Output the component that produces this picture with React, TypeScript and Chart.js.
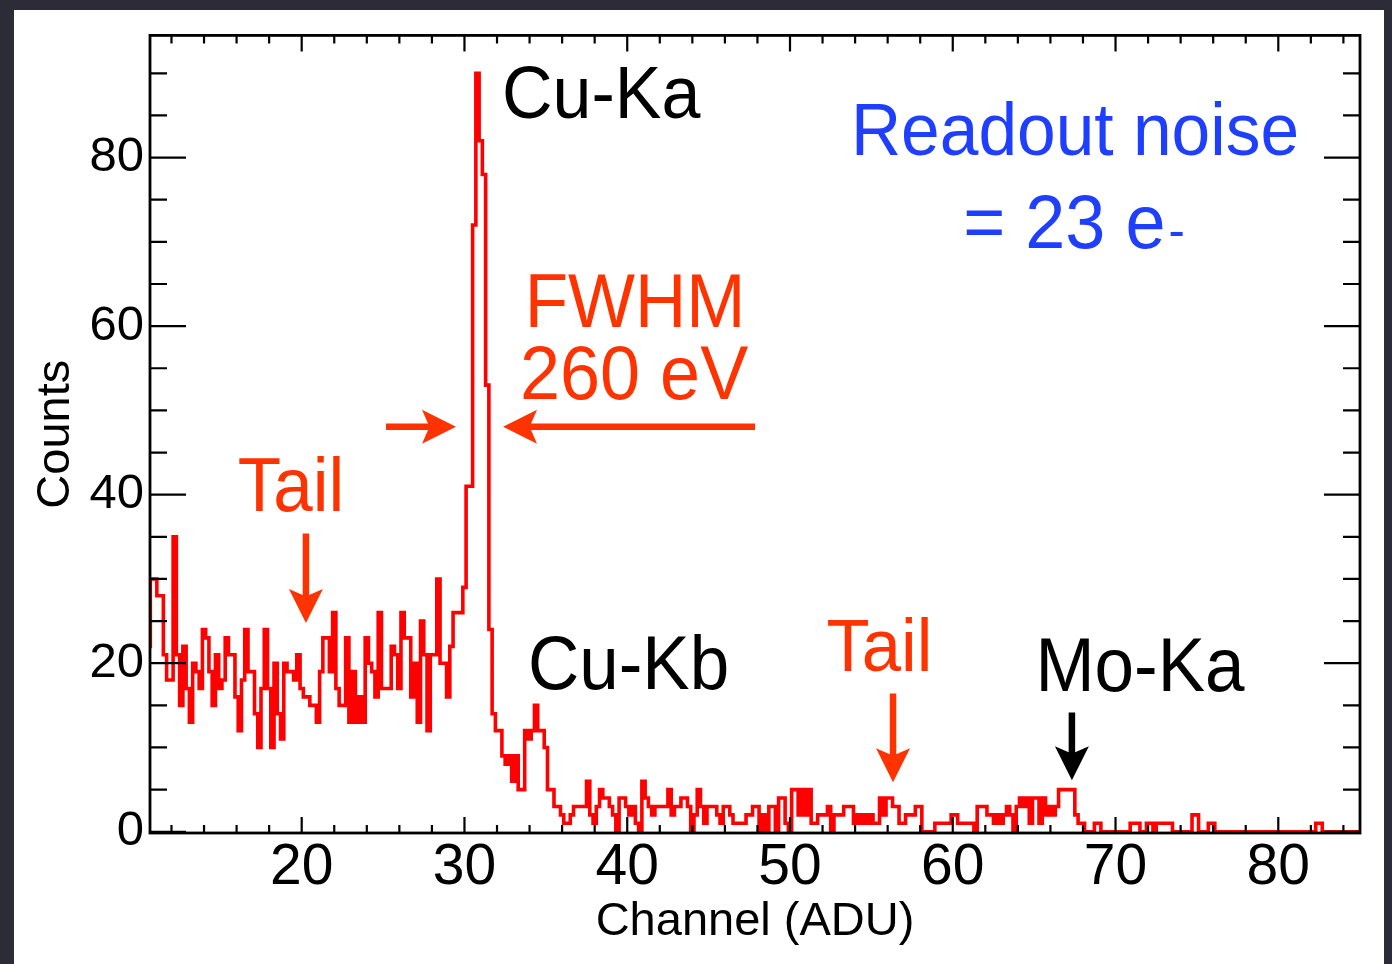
import React, { useEffect, useRef } from "react";
import { Chart, registerables } from "chart.js";

Chart.register(...registerables);

// ---------- data ----------
const BIN_START = 10.5; // lower edge of first bin (ADU)
const BIN_WIDTH = 0.2; // ADU per bin

// counts per bin, 10.5 .. 29.9 ADU
const lowNoiseCounts = [
  22, 30, 30, 28, 28, 21, 18, 18, 35, 21,
  15, 22, 17, 13, 20, 19, 17, 24, 23, 19,
  15, 21, 17, 18, 23, 21, 21, 16, 12, 18,
  24, 19, 19, 14, 10, 17, 24, 17, 10, 20,
  14, 11, 20, 19, 19, 18, 21, 17, 16, 16,
  15, 15, 13, 19, 23, 23, 19, 26, 17, 15,
  15, 23, 13, 19, 13, 16, 13, 23, 20, 19,
  16, 26, 17, 17, 17, 22, 21, 17, 26, 23,
  23, 16, 20, 13, 25, 21, 12, 21, 21, 30,
  20, 20, 16, 22, 26, 26, 26,
];

// counts per bin, 29.9 .. 36.1 ADU (Cu-Ka peak and Cu-Kb)
const cuKaPeakCounts = [
  29, 41, 41, 72, 90, 82, 78, 53, 24, 14,
  12, 12, 9, 8, 9, 6, 9, 5, 5, 12,
  11, 12, 15, 12, 12, 10, 5, 5, 3, 3, 2,
];

// counts per bin, 36.1 .. 60.5 ADU
const midTailCounts = [
  1, 1, 2, 3, 3, 3, 3, 6, 2, 1,
  3, 5, 4, 4, 3, 2, 0, 4, 4, 3,
  2, 3, 1, 0, 6, 4, 3, 2, 3, 3,
  3, 3, 5, 2, 3, 3, 4, 4, 3, 0,
  2, 5, 3, 1, 3, 3, 3, 2, 1, 3,
  3, 2, 1, 1, 1, 1, 2, 2, 3, 3,
  0, 2, 0, 3, 3, 0, 4, 4, 1, 0,
  5, 5, 2, 5, 2, 5, 1, 1, 2, 2,
  2, 3, 0, 2, 2, 2, 3, 3, 3, 1,
  2, 1, 2, 1, 2, 1, 1, 4, 2, 4,
  4, 3, 3, 1, 1, 2, 2, 2, 3, 3,
  0, 0, 0, 0, 1, 1, 1, 1, 1, 2,
  2, 1,
];

// counts per bin, 60.5 .. 85.3 ADU (Mo-Ka region)
const highTailCounts = [
  1, 1, 1, 1, 0, 3, 3, 3, 2, 2,
  1, 2, 1, 2, 3, 2, 0, 3, 4, 3,
  4, 1, 4, 4, 1, 4, 2, 3, 2, 3,
  5, 5, 5, 5, 5, 2, 1, 1, 0, 0,
  0, 1, 1, 0, 0, 0, 0, 0, 0, 0,
  0, 0, 1, 1, 1, 0, 0, 1, 1, 0,
  1, 1, 1, 1, 1, 0, 0, 0, 0, 0,
  0, 2, 2, 0, 0, 0, 1, 1, 0, 0,
  0, 0, 0, 0, 0, 0, 0, 0, 0, 0,
  0, 0, 0, 0, 0, 0, 0, 0, 0, 0,
  0, 0, 0, 0, 0, 0, 0, 0, 0, 1,
  1, 0, 0, 0, 0, 0, 0, 0, 0, 0,
  0, 0, 0, 0,
];

const X_MIN = 10.68;
const X_MAX = 85.02;
const Y_MIN = -0.15;
const Y_MAX = 94.5;

const xMajorTicks = [20, 30, 40, 50, 60, 70, 80];
const xMinorTicks = [
  12, 14, 16, 18, 22, 24, 26, 28, 32, 34, 36, 38, 42, 44, 46, 48, 52, 54, 56, 58,
  62, 64, 66, 68, 72, 74, 76, 78, 82, 84,
];
const yMajorTicks = [0, 20, 40, 60, 80];
const yMinorTicks = [5, 10, 15, 25, 30, 35, 45, 50, 55, 65, 70, 75, 85, 90];

// annotation texts (centre x, baseline y in data units)
const textLabels = [
  { text: "Cu-Ka", x: 38.4, y: 84.69, color: "black", size: 70 },
  { text: "Readout noise", x: 67.51, y: 80.31, color: "blue", size: 69.5 },
  { text: "= 23 e", sub: "-", x: 67.45, y: 69.33, color: "blue", size: 72 },
  { text: "FWHM", x: 40.48, y: 59.87, color: "orange", size: 71 },
  { text: "260 eV", x: 40.42, y: 51.36, color: "orange", size: 72 },
  { text: "Tail", x: 19.34, y: 38.01, color: "orange", size: 71 },
  { text: "Cu-Kb", x: 40.08, y: 16.98, color: "black", size: 71 },
  { text: "Tail", x: 55.5, y: 19.11, color: "orange", size: 70.5 },
  { text: "Mo-Ka", x: 71.5, y: 16.74, color: "black", size: 71 },
];

// annotation arrows (from -> to, data units)
const arrowMarks = [
  { x1: 25.18, y1: 48.05, x2: 29.48, y2: 48.05, color: "orange" },
  { x1: 47.85, y1: 48.05, x2: 32.37, y2: 48.05, color: "orange" },
  { x1: 20.26, y1: 35.4, x2: 20.26, y2: 24.78, color: "orange" },
  { x1: 56.33, y1: 16.39, x2: 56.33, y2: 5.87, color: "orange" },
  { x1: 67.32, y1: 14.14, x2: 67.32, y2: 6.11, color: "black" },
];

// ---------- styles ----------
const FONT = "'Liberation Sans', Arial, Helvetica, sans-serif";
const HIST_RED = "#ff0000";
const TEXT_STRETCH = 1.06;
const COLORS: Record<string, string> = {
  black: "#000000",
  blue: "#1f3fff",
  orange: "#ff3300",
};

function drawArrow(ctx: CanvasRenderingContext2D, x1: number, y1: number, x2: number, y2: number, color: string) {
  const dx = x2 - x1;
  const dy = y2 - y1;
  const len = Math.hypot(dx, dy);
  const shaft = 6.5;
  const head = 34;
  const half = 17;
  const notch = 6;
  ctx.save();
  ctx.translate(x1, y1);
  ctx.rotate(Math.atan2(dy, dx));
  ctx.fillStyle = color;
  ctx.beginPath();
  ctx.moveTo(0, -shaft / 2);
  ctx.lineTo(len - head + notch, -shaft / 2);
  ctx.lineTo(len - head, -half);
  ctx.lineTo(len, 0);
  ctx.lineTo(len - head, half);
  ctx.lineTo(len - head + notch, shaft / 2);
  ctx.lineTo(0, shaft / 2);
  ctx.closePath();
  ctx.fill();
  ctx.restore();
}

const framePlugin = {
  id: "rootFrame",
  afterDatasetsDraw(chart: any) {
    const { ctx, chartArea, scales } = chart;
    const { left, right, top, bottom } = chartArea;
    const xs = scales.x;
    const ys = scales.y;
    ctx.save();
    ctx.strokeStyle = "#000";
    ctx.lineWidth = 2.2;
    ctx.lineCap = "butt";
    ctx.beginPath();
    const seg = (a: number, b: number, c: number, d: number) => {
      ctx.moveTo(a, b);
      ctx.lineTo(c, d);
    };
    xMajorTicks.forEach((v) => {
      const p = xs.getPixelForValue(v);
      seg(p, bottom, p, bottom - 16);
      seg(p, top, p, top + 16);
    });
    xMinorTicks.forEach((v) => {
      const p = xs.getPixelForValue(v);
      seg(p, bottom, p, bottom - 8);
      seg(p, top, p, top + 8);
    });
    yMajorTicks.forEach((v) => {
      const p = ys.getPixelForValue(v);
      seg(left, p, left + 36, p);
      seg(right, p, right - 36, p);
    });
    yMinorTicks.forEach((v) => {
      const p = ys.getPixelForValue(v);
      seg(left, p, left + 17, p);
      seg(right, p, right - 17, p);
    });
    ctx.stroke();
    ctx.lineWidth = 2.8;
    ctx.strokeRect(left, top, right - left, bottom - top);
    ctx.restore();
  },
  afterDraw(chart: any) {
    const { ctx, scales } = chart;
    const xs = scales.x;
    const ys = scales.y;
    ctx.save();
    textLabels.forEach((l: any) => {
      const cx = xs.getPixelForValue(l.x);
      const by = ys.getPixelForValue(l.y);
      const subSize = Math.round(l.size * 0.68);
      ctx.fillStyle = COLORS[l.color];
      ctx.textBaseline = "alphabetic";
      ctx.textAlign = "left";
      ctx.font = `${l.size}px ${FONT}`;
      const w1 = ctx.measureText(l.text).width;
      let w2 = 0;
      if (l.sub) {
        ctx.font = `${subSize}px ${FONT}`;
        w2 = ctx.measureText(l.sub).width + 3;
      }
      const x0 = cx - (w1 + w2) / 2;
      ctx.save();
      ctx.translate(x0, by);
      ctx.scale(1, TEXT_STRETCH);
      ctx.font = `${l.size}px ${FONT}`;
      ctx.fillText(l.text, 0, 0);
      if (l.sub) {
        ctx.font = `${subSize}px ${FONT}`;
        ctx.fillText(l.sub, w1 + 3, 0);
      }
      ctx.restore();
    });
    arrowMarks.forEach((a) => {
      drawArrow(
        ctx,
        xs.getPixelForValue(a.x1),
        ys.getPixelForValue(a.y1),
        xs.getPixelForValue(a.x2),
        ys.getPixelForValue(a.y2),
        COLORS[a.color]
      );
    });
    ctx.restore();
  },
};

export default function App() {
  const canvasRef = useRef<HTMLCanvasElement | null>(null);

  useEffect(() => {
    const canvas = canvasRef.current;
    if (!canvas) return;
    const counts = [...lowNoiseCounts, ...cuKaPeakCounts, ...midTailCounts, ...highTailCounts];
    // histogram outline: horizontal at each bin's count, vertical at each bin edge
    const outline: { x: number; y: number }[] = [];
    counts.forEach((c, i) => {
      const lo = BIN_START + i * BIN_WIDTH;
      const hi = lo + BIN_WIDTH;
      outline.push({ x: lo, y: c });
      outline.push({ x: hi, y: c });
    });

    const chart = new Chart(canvas, {
      type: "line",
      data: {
        datasets: [
          {
            data: outline,
            borderColor: HIST_RED,
            borderWidth: 3.6,
            pointRadius: 0,
            fill: false,
            tension: 0,
            borderJoinStyle: "miter",
            borderCapStyle: "butt",
          } as any,
        ],
      },
      options: {
        animation: false,
        responsive: false,
        devicePixelRatio: 1,
        layout: { padding: { left: 0, right: 32, top: 32, bottom: 0 } },
        plugins: { legend: { display: false }, tooltip: { enabled: false } },
        scales: {
          x: {
            type: "linear",
            min: X_MIN,
            max: X_MAX,
            grid: { display: false, drawTicks: false },
            border: { display: false },
            afterBuildTicks: (s: any) => {
              s.ticks = xMajorTicks.map((v) => ({ value: v }));
            },
            afterFit: (s: any) => {
              s.height = 131;
            },
            ticks: {
              autoSkip: false,
              maxRotation: 0,
              padding: 1,
              color: "#000",
              font: { family: FONT, size: 57 },
              callback: (v: any) => String(v),
            },
            title: {
              display: true,
              text: "Channel (ADU)",
              color: "#000",
              font: { family: FONT, size: 47 },
              padding: { top: 0, bottom: 14 },
            },
          },
          y: {
            type: "linear",
            min: Y_MIN,
            max: Y_MAX,
            grid: { display: false, drawTicks: false },
            border: { display: false },
            afterBuildTicks: (s: any) => {
              s.ticks = yMajorTicks.map((v) => ({ value: v }));
            },
            afterFit: (s: any) => {
              s.width = 150;
            },
            ticks: {
              autoSkip: false,
              padding: 6,
              color: "#000",
              font: { family: FONT, size: 49 },
              callback: (v: any) => String(v),
            },
            title: {
              display: true,
              text: "Counts",
              color: "#000",
              font: { family: FONT, size: 47 },
              padding: { top: 28, bottom: 0 },
            },
          },
        },
      } as any,
      plugins: [framePlugin],
    });
    return () => chart.destroy();
  }, []);

  return (
    <div
      style={{
        position: "fixed",
        left: 0,
        top: 0,
        width: 1392,
        height: 964,
        background: "#2c2b38",
        overflow: "hidden",
      }}
    >
      <div style={{ position: "absolute", left: 14, top: 10, width: 1370, height: 954, background: "#ffffff" }} />
      <canvas
        ref={canvasRef}
        width={1392}
        height={964}
        style={{ position: "absolute", left: 0, top: 0, width: 1392, height: 964 }}
      />
    </div>
  );
}
